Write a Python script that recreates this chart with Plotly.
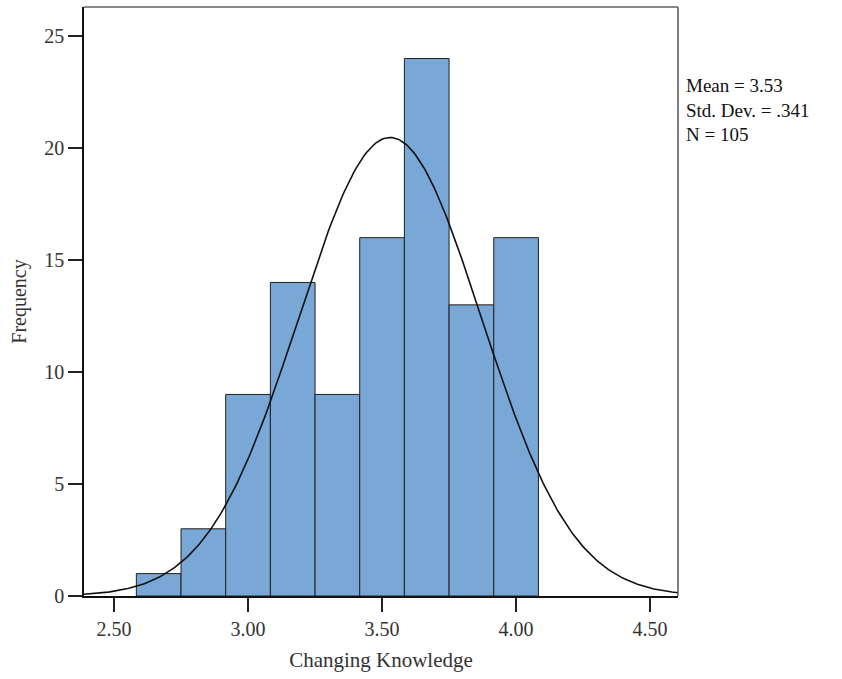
import numpy as np
import plotly.graph_objects as go

# histogram of Changing Knowledge (SPSS style)
bin_start = 2.5833
bin_width = 1 / 6
counts = [1, 3, 9, 14, 9, 16, 24, 13, 16]
mean, sd, n = 3.53, 0.341, 105
x_ticks = [2.50, 3.00, 3.50, 4.00, 4.50]
x_tick_text = ["2.50", "3.00", "3.50", "4.00", "4.50"]
y_ticks = [0, 5, 10, 15, 20, 25]
stats_lines = ["Mean = 3.53", "Std. Dev. = .341", "N = 105"]

centers = [bin_start + bin_width * (i + 0.5) for i in range(len(counts))]

# fitted normal curve scaled to the histogram
xr = (2.388, 4.604)
xs = np.linspace(xr[0], xr[1], 300)
ys = n * bin_width / (sd * np.sqrt(2 * np.pi)) * np.exp(-0.5 * ((xs - mean) / sd) ** 2)

font = "Liberation Serif, Times New Roman, serif"

fig = go.Figure()
fig.add_trace(go.Bar(
    x=centers, y=counts, width=bin_width,
    marker=dict(color="#79A7D6", line=dict(color="#222222", width=1)),
    hoverinfo="skip",
))
fig.add_trace(go.Scatter(
    x=xs, y=ys, mode="lines",
    line=dict(color="#111111", width=1.6), hoverinfo="skip",
))

fig.update_layout(
    width=842, height=679,
    margin=dict(l=84, r=164, t=7, b=83),
    paper_bgcolor="white", plot_bgcolor="white",
    showlegend=False,
    font=dict(family=font, size=20, color="#333333"),
    xaxis=dict(
        range=list(xr), tickvals=x_ticks, ticktext=x_tick_text,
        ticks="outside", ticklen=14, tickwidth=1.5, tickcolor="#222222",
        showline=True, linecolor="#111111", linewidth=1.5,
        showgrid=False, zeroline=False,
        title=dict(text="Changing Knowledge", standoff=14, font=dict(size=21)),
    ),
    yaxis=dict(
        range=[0, 26.3], tickvals=y_ticks,
        ticks="outside", ticklen=14, tickwidth=1.5, tickcolor="#222222",
        showline=True, linecolor="#111111", linewidth=1.5,
        showgrid=False, zeroline=False,
        title=dict(text="Frequency", standoff=12, font=dict(size=20)),
    ),
    shapes=[
        dict(type="line", xref="paper", yref="paper", x0=0, x1=1, y0=1, y1=1,
             line=dict(color="#888888", width=2)),
        dict(type="line", xref="paper", yref="paper", x0=1, x1=1, y0=0, y1=1,
             line=dict(color="#555555", width=1.5)),
    ],
    annotations=[
        dict(xref="paper", yref="paper", x=1.01, y=1 - (110 - 7) / 589,
             xanchor="left", yanchor="middle", align="left", showarrow=False,
             text="<br>".join(stats_lines),
             font=dict(family=font, size=19, color="#111111")),
    ],
)

fig.write_html("out.html", config={"displayModeBar": False},
               post_script="document.body.style.margin='0';")
